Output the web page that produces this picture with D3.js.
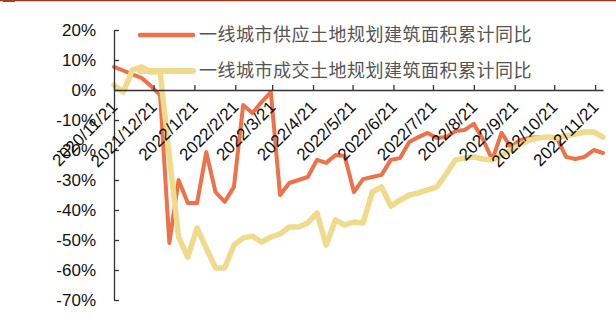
<!DOCTYPE html>
<html>
<head>
<meta charset="utf-8">
<script src="https://cdn.jsdelivr.net/npm/d3@7"></script>
<style>
  html, body { margin: 0; padding: 0; background: #fff; }
  svg { display: block; }
  .axis text { font-family: "Liberation Sans", Arial, sans-serif; font-size: 17px; fill: #111; }
  .axis path, .axis line { stroke: #333; stroke-width: 1.3; }
  .legend text { font-family: "Noto Sans CJK SC", sans-serif; font-size: 18px; fill: #555; letter-spacing: 0.5px; }
</style>
</head>
<body>
<svg id="chart" width="616" height="329"></svg>
<script>
// Weekly series, starting 2021-11-21
const startDate = "2021-11-21";
const seriesNames = ["一线城市供应土地规划建筑面积累计同比", "一线城市成交土地规划建筑面积累计同比"];
const supply = [7.7, 6.5, 5.2, 4, 1.3, -1.7, -51, -30, -37.7, -37.7, -20.7, -34, -37.3, -32.3,
  -5, -7.7, -4, -0.7, -35, -31, -30, -29, -23.3, -24.3, -21.7, -22, -34, -29.7, -29, -28.3,
  -23.3, -22.7, -17.3, -15.7, -14.3, -16, -15.7, -13.7, -13.3, -11.3, -16.5, -23.3, -14.3, -19,
  -16.7, -16, -15.7, -15.7, -16, -22.3, -23, -22.3, -20, -21];
const deal = [1.7, -0.7, 6.7, 7.7, 6, 6, -22, -49, -55.7, -46, -52.7, -59.3, -59.3, -51.7,
  -49.3, -48.7, -50.7, -49, -48, -45.7, -45.7, -44.3, -41, -51.7, -43.3, -45, -44, -44.3,
  -34, -32.3, -38.7, -36.7, -35, -34.3, -33.3, -32.3, -28, -23.3, -22.7, -22.3, -23, -23.3,
  -21.7, -20, -18.3, -16.7, -16, -15.7, -16, -15.3, -14.7, -14, -14, -15.7];
const xTickDates = ["2021-11-21", "2021-12-21", "2022-01-21", "2022-02-21", "2022-03-21", "2022-04-21",
  "2022-05-21", "2022-06-21", "2022-07-21", "2022-08-21", "2022-09-21", "2022-10-21", "2022-11-21"];
const xTickLabels = ["2020/11/21", "2021/12/21", "2022/1/21", "2022/2/21", "2022/3/21", "2022/4/21",
  "2022/5/21", "2022/6/21", "2022/7/21", "2022/8/21", "2022/9/21", "2022/10/21", "2022/11/21"];
const yTicks = [20, 10, 0, -10, -20, -30, -40, -50, -60, -70];
const colors = ["#EE7149", "#F0DA8C"];

const parse = d3.utcParse("%Y-%m-%d");
const t0 = parse(startDate);
const dates = supply.map((_, i) => d3.utcDay.offset(t0, i * 7));

const svg = d3.select("#chart");

// Header rule
svg.append("rect").attr("x", 0).attr("y", 0).attr("width", 616).attr("height", 1.2).attr("fill", "#A9331A");
svg.append("rect").attr("x", 3).attr("y", 0).attr("width", 12).attr("height", 2).attr("fill", "#B23A1C");

const x = d3.scaleUtc().domain([dates[0], dates[dates.length - 1]]).range([114, 603]);
const y = d3.scaleLinear().domain([-70, 20]).range([300, 30]);

const line = d3.line().x((d, i) => x(dates[i])).y(d => y(d));

// Series lines
svg.append("path").datum(supply)
  .attr("d", line).attr("fill", "none")
  .attr("stroke", colors[0]).attr("stroke-width", 4)
  .attr("stroke-linejoin", "round").attr("stroke-linecap", "round");
svg.append("path").datum(deal)
  .attr("d", line).attr("fill", "none")
  .attr("stroke", colors[1]).attr("stroke-width", 5.5)
  .attr("stroke-linejoin", "round").attr("stroke-linecap", "round");

// Y axis
const yAxis = svg.append("g").attr("class", "axis")
  .attr("transform", `translate(${x.range()[0]},0)`)
  .call(d3.axisLeft(y).tickValues(yTicks).tickFormat(d => d + "%").tickSizeInner(-5).tickSizeOuter(0).tickPadding(18));

// X axis along the zero line
const tickDates = xTickDates.map(parse);
const xAxis = svg.append("g").attr("class", "axis")
  .attr("transform", `translate(0,${y(0)})`)
  .call(d3.axisBottom(x).tickValues(tickDates)
    .tickFormat((d, i) => xTickLabels[i]).tickSizeInner(-5).tickSizeOuter(0));
xAxis.selectAll("text")
  .attr("text-anchor", "end")
  .attr("dy", null)
  .attr("y", 0)
  .attr("transform", "translate(4,18) rotate(-45)");

// Legend
const legend = svg.append("g").attr("class", "legend");
const legendY = [35, 71];
seriesNames.forEach((name, i) => {
  legend.append("line")
    .attr("x1", 140).attr("x2", 193).attr("y1", legendY[i]).attr("y2", legendY[i])
    .attr("stroke", colors[i]).attr("stroke-width", i === 0 ? 4.5 : 6).attr("stroke-linecap", "round");
  legend.append("text")
    .attr("x", 199).attr("y", legendY[i]).attr("dy", "0.35em")
    .text(name);
});
</script>
</body>
</html>
